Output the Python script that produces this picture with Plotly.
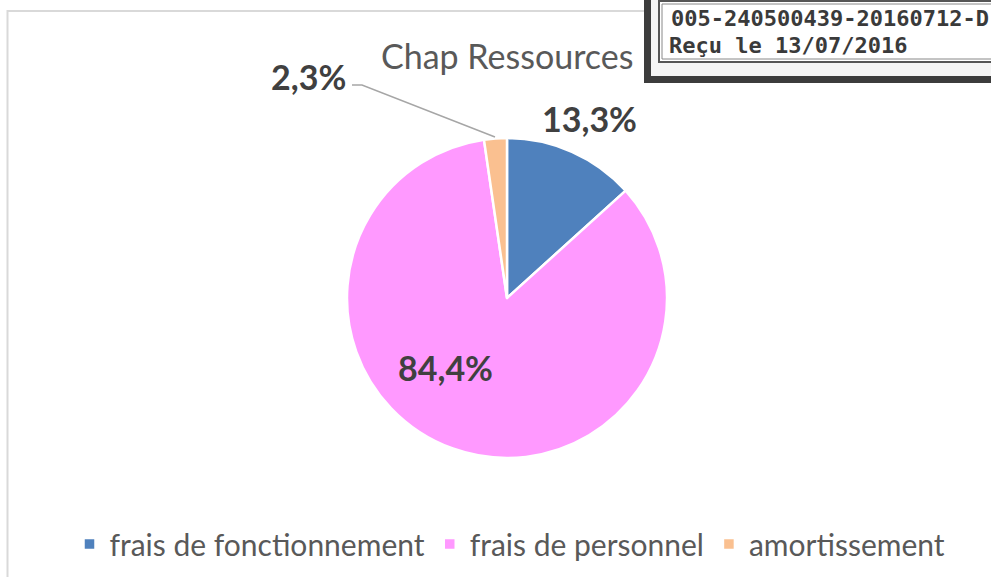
import plotly.graph_objects as go

# ---- data ----
categories = ["frais de fonctionnement", "frais de personnel", "amortissement"]
values = [13.3, 84.4, 2.3]
colors = ["#4F81BD", "#FF99FF", "#FAC090"]
title_text = "Chap Ressources"
stamp_line1 = "005-240500439-20160712-D"
stamp_line2 = "Reçu le 13/07/2016"

W, H = 991, 577


def px(x):
    return x / W


def py(y):
    return 1 - y / H


fig = go.Figure()
fig.add_trace(go.Pie(
    labels=categories,
    values=values,
    sort=False,
    direction="clockwise",
    rotation=0,
    marker=dict(colors=colors, line=dict(color="white", width=2.5)),
    textinfo="none",
    hoverinfo="label+percent",
    domain=dict(x=[px(347), px(667)], y=[py(458), py(138)]),
    showlegend=True,
))

# label positions (pixel space) for each slice
label_xy = [(589, 118), (445, 367), (308, 77)]
annotations = []
for v, (lx, ly) in zip(values, label_xy):
    annotations.append(dict(
        x=px(lx), y=py(ly), xref="paper", yref="paper",
        text="<b>" + f"{v:.1f}".replace(".", ",") + "%</b>",
        showarrow=False, xanchor="center", yanchor="middle",
        font=dict(family="Lato", size=34, color="#404040"),
    ))

# title
annotations.append(dict(
    x=px(507), y=py(56), xref="paper", yref="paper", text=title_text,
    showarrow=False, xanchor="center", yanchor="middle",
    font=dict(family="Lato", size=34, color="#595959"),
))

# stamp text
annotations.append(dict(
    x=px(669), y=py(19), xref="paper", yref="paper", text="<b>" + stamp_line1 + "</b>",
    showarrow=False, xanchor="left", yanchor="middle",
    font=dict(family="DejaVu Sans Mono", size=22, color="#3A3A3A"),
))
annotations.append(dict(
    x=px(667), y=py(45), xref="paper", yref="paper", text="<b>" + stamp_line2 + "</b>",
    showarrow=False, xanchor="left", yanchor="middle",
    font=dict(family="DejaVu Sans Mono", size=22, color="#3A3A3A"),
))

shapes = [
    # chart area border
    dict(type="rect", xref="paper", yref="paper",
         x0=px(7.5), x1=px(1010), y0=py(600), y1=py(11),
         line=dict(color="#D9D9D9", width=2), fillcolor="rgba(0,0,0,0)", layer="below"),
    # leader line for small slice
    dict(type="path", xref="paper", yref="paper",
         path=f"M {px(352)},{py(85)} L {px(362)},{py(85)} L {px(495)},{py(137)}",
         line=dict(color="#A6A6A6", width=1.5)),
    # stamp outer frame
    dict(type="rect", xref="paper", yref="paper",
         x0=px(644), x1=px(1010), y0=py(83), y1=py(-20),
         line=dict(width=0), fillcolor="#3C3C3C", layer="above"),
    dict(type="rect", xref="paper", yref="paper",
         x0=px(651), x1=px(1010), y0=py(76), y1=py(-20),
         line=dict(width=0), fillcolor="#F4F4F4", layer="above"),
    dict(type="rect", xref="paper", yref="paper",
         x0=px(659), x1=px(1010), y0=py(62), y1=py(1),
         line=dict(color="#555555", width=2), fillcolor="white", layer="above"),
    dict(type="rect", xref="paper", yref="paper",
         x0=px(662), x1=px(1010), y0=py(59), y1=py(4),
         line=dict(color="#888888", width=1), fillcolor="white", layer="above"),
]

fig.update_layout(
    width=W, height=H,
    margin=dict(l=0, r=0, t=0, b=0),
    paper_bgcolor="white", plot_bgcolor="white",
    separators=", ",
    annotations=annotations,
    shapes=shapes,
    legend=dict(
        orientation="h", x=px(510), y=py(544), xanchor="center", yanchor="middle",
        font=dict(family="Lato", size=30, color="#595959"),
        itemwidth=30, traceorder="normal",
    ),
)

fig.write_html(
    "out.html",
    config={"displayModeBar": False},
    post_script="document.body.style.margin='0';document.body.style.overflow='hidden';",
)
